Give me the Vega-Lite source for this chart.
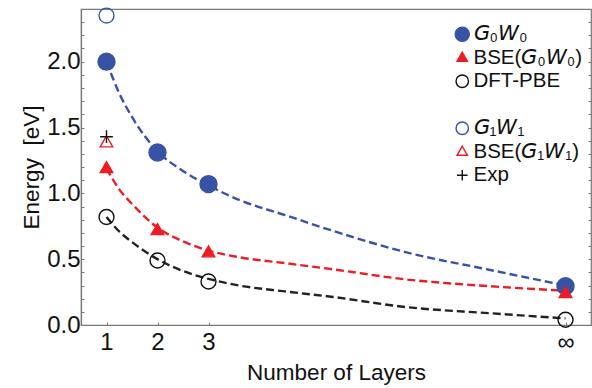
{
  "$schema": "https://vega.github.io/schema/vega-lite/v6.json",
  "width": 510,
  "height": 316,
  "autosize": {"type": "none"},
  "padding": {"left": 81, "top": 9, "right": 1, "bottom": 63},
  "background": "white",
  "config": {
    "font": "Liberation Sans",
    "view": {"stroke": "#777777", "strokeWidth": 1.2},
    "axis": {
      "domainColor": "#777777",
      "domainWidth": 1.2,
      "tickColor": "#777777",
      "labelColor": "#111111",
      "titleColor": "#111111",
      "labelFontSize": 24,
      "titleFontSize": 22.5,
      "titleFontWeight": "normal",
      "labelFont": "Liberation Sans",
      "titleFont": "Liberation Sans",
      "grid": false
    },
    "legend": {
      "labelFont": "Liberation Sans, DejaVu Sans",
      "labelFontSize": 20.5,
      "labelColor": "#111111",
      "symbolSize": 200,
      "symbolStrokeWidth": 1.4,
      "rowPadding": 2.5,
      "labelOffset": 1,
      "padding": 0
    }
  },
  "datasets": {
    "points": [
      {"series": "G0W0", "N": 1, "E": 2.0},
      {"series": "G0W0", "N": 2, "E": 1.31},
      {"series": "G0W0", "N": 3, "E": 1.07},
      {"series": "G0W0", "N": 10, "E": 0.295},
      {"series": "BSE(G0W0)", "N": 1, "E": 1.19},
      {"series": "BSE(G0W0)", "N": 2, "E": 0.72},
      {"series": "BSE(G0W0)", "N": 3, "E": 0.55},
      {"series": "BSE(G0W0)", "N": 10, "E": 0.24},
      {"series": "DFT-PBE", "N": 1, "E": 0.82},
      {"series": "DFT-PBE", "N": 2, "E": 0.49},
      {"series": "DFT-PBE", "N": 3, "E": 0.33},
      {"series": "DFT-PBE", "N": 10, "E": 0.04},
      {"series": "G1W1", "N": 1, "E": 2.35},
      {"series": "BSE(G1W1)", "N": 1, "E": 1.385},
      {"series": "Exp", "N": 1, "E": 1.43}
    ],
    "curves": [
      {"fit": "G0W0", "N": 1, "E": 2.0},
      {"fit": "G0W0", "N": 1.25, "E": 1.76},
      {"fit": "G0W0", "N": 1.5, "E": 1.58},
      {"fit": "G0W0", "N": 2, "E": 1.32},
      {"fit": "G0W0", "N": 2.5, "E": 1.17},
      {"fit": "G0W0", "N": 3, "E": 1.06},
      {"fit": "G0W0", "N": 3.6, "E": 0.95},
      {"fit": "G0W0", "N": 4.5, "E": 0.835},
      {"fit": "G0W0", "N": 5.4, "E": 0.72},
      {"fit": "G0W0", "N": 6.9, "E": 0.55},
      {"fit": "G0W0", "N": 8.5, "E": 0.42},
      {"fit": "G0W0", "N": 10, "E": 0.3},
      {"fit": "BSE", "N": 1, "E": 1.19},
      {"fit": "BSE", "N": 1.25, "E": 1.03},
      {"fit": "BSE", "N": 1.5, "E": 0.92},
      {"fit": "BSE", "N": 2, "E": 0.74},
      {"fit": "BSE", "N": 2.5, "E": 0.635},
      {"fit": "BSE", "N": 3, "E": 0.565},
      {"fit": "BSE", "N": 3.6, "E": 0.515},
      {"fit": "BSE", "N": 4.5, "E": 0.47},
      {"fit": "BSE", "N": 5.4, "E": 0.425},
      {"fit": "BSE", "N": 6.9, "E": 0.345},
      {"fit": "BSE", "N": 8.5, "E": 0.295},
      {"fit": "BSE", "N": 10, "E": 0.26},
      {"fit": "PBE", "N": 1, "E": 0.82},
      {"fit": "PBE", "N": 1.25, "E": 0.71},
      {"fit": "PBE", "N": 1.5, "E": 0.63},
      {"fit": "PBE", "N": 2, "E": 0.5},
      {"fit": "PBE", "N": 2.5, "E": 0.41},
      {"fit": "PBE", "N": 3, "E": 0.35},
      {"fit": "PBE", "N": 3.6, "E": 0.3},
      {"fit": "PBE", "N": 4.5, "E": 0.255},
      {"fit": "PBE", "N": 5.4, "E": 0.215},
      {"fit": "PBE", "N": 6.9, "E": 0.135},
      {"fit": "PBE", "N": 8.5, "E": 0.09},
      {"fit": "PBE", "N": 10, "E": 0.05}
    ]
  },
  "layer": [
    {
      "data": {"name": "curves"},
      "mark": {"type": "line", "interpolate": "monotone", "strokeDash": [8, 4], "strokeWidth": 2.4},
      "encoding": {
        "x": {
          "field": "N", "type": "quantitative",
          "scale": {"domain": [0.5, 10.5], "nice": false, "zero": false},
          "axis": {
            "values": [1, 2, 3, 10],
            "labelExpr": "datum.value == 10 ? '∞' : datum.label",
            "tickSize": -3,
            "labelPadding": 8,
            "title": "Number of Layers",
            "titlePadding": 7
          }
        },
        "y": {
          "field": "E", "type": "quantitative",
          "scale": {"domain": [0, 2.4], "nice": false},
          "axis": {
            "orient": "left",
            "values": [0, 0.1, 0.2, 0.3, 0.4, 0.5, 0.6, 0.7, 0.8, 0.9, 1.0, 1.1, 1.2, 1.3, 1.4, 1.5, 1.6, 1.7, 1.8, 1.9, 2.0, 2.1, 2.2, 2.3],
            "labelExpr": "abs(datum.value * 2 - round(datum.value * 2)) < 0.001 ? format(datum.value, '.1f') : ''",
            "tickSize": -3,
            "labelPadding": 4,
            "title": "Energy\u00a0\u00a0[eV]",
            "titlePadding": 3
          }
        },
        "color": {
          "field": "fit", "type": "nominal",
          "scale": {"domain": ["G0W0", "BSE", "PBE"], "range": ["#3853A4", "#ED1C24", "#222222"]},
          "legend": null
        }
      }
    },
    {
      "data": {"name": "points"},
      "mark": {"type": "point", "size": 289, "strokeWidth": 1.4, "opacity": 1},
      "encoding": {
        "x": {"field": "N", "type": "quantitative"},
        "y": {
          "field": "E", "type": "quantitative",
          "axis": {
            "orient": "right",
            "values": [0, 0.1, 0.2, 0.3, 0.4, 0.5, 0.6, 0.7, 0.8, 0.9, 1.0, 1.1, 1.2, 1.3, 1.4, 1.5, 1.6, 1.7, 1.8, 1.9, 2.0, 2.1, 2.2, 2.3],
            "labels": false,
            "domain": false,
            "tickSize": -3,
            "title": null
          }
        },
        "shape": {
          "field": "series", "type": "nominal", "title": null,
          "scale": {
            "domain": ["G0W0", "BSE(G0W0)", "DFT-PBE", " ", "G1W1", "BSE(G1W1)", "Exp"],
            "range": [
              "circle",
              "M0,-0.78L0.74,0.5L-0.74,0.5Z",
              "M-0.88,0A0.88,0.88 0 1,0 0.88,0A0.88,0.88 0 1,0 -0.88,0Z",
              "circle",
              "M-0.88,0A0.88,0.88 0 1,0 0.88,0A0.88,0.88 0 1,0 -0.88,0Z",
              "M0,-0.78L0.74,0.5L-0.74,0.5Z",
              "M-0.75,0H0.75M0,-0.75V0.75"
            ]
          },
          "legend": {
            "orient": "none", "legendX": 371, "legendY": 15,
            "labelExpr": "datum.value == 'G0W0' ? '𝘎₀𝘞₀' : datum.value == 'BSE(G0W0)' ? 'BSE(𝘎₀𝘞₀)' : datum.value == 'G1W1' ? '𝘎₁𝘞₁' : datum.value == 'BSE(G1W1)' ? 'BSE(𝘎₁𝘞₁)' : datum.value"
          }
        },
        "stroke": {
          "field": "series", "type": "nominal", "title": null,
          "scale": {
            "domain": ["G0W0", "BSE(G0W0)", "DFT-PBE", " ", "G1W1", "BSE(G1W1)", "Exp"],
            "range": ["#3853A4", "#ED1C24", "#111111", "transparent", "#3853A4", "#ED1C24", "#111111"]
          },
          "legend": {
            "orient": "none", "legendX": 371, "legendY": 15,
            "labelExpr": "datum.value == 'G0W0' ? '𝘎₀𝘞₀' : datum.value == 'BSE(G0W0)' ? 'BSE(𝘎₀𝘞₀)' : datum.value == 'G1W1' ? '𝘎₁𝘞₁' : datum.value == 'BSE(G1W1)' ? 'BSE(𝘎₁𝘞₁)' : datum.value"
          }
        },
        "fill": {
          "field": "series", "type": "nominal", "title": null,
          "scale": {
            "domain": ["G0W0", "BSE(G0W0)", "DFT-PBE", " ", "G1W1", "BSE(G1W1)", "Exp"],
            "range": ["#3853A4", "#ED1C24", "transparent", "transparent", "transparent", "transparent", "transparent"]
          },
          "legend": {
            "orient": "none", "legendX": 371, "legendY": 15,
            "labelExpr": "datum.value == 'G0W0' ? '𝘎₀𝘞₀' : datum.value == 'BSE(G0W0)' ? 'BSE(𝘎₀𝘞₀)' : datum.value == 'G1W1' ? '𝘎₁𝘞₁' : datum.value == 'BSE(G1W1)' ? 'BSE(𝘎₁𝘞₁)' : datum.value"
          }
        }
      }
    }
  ],
  "resolve": {"axis": {"y": "independent"}}
}
